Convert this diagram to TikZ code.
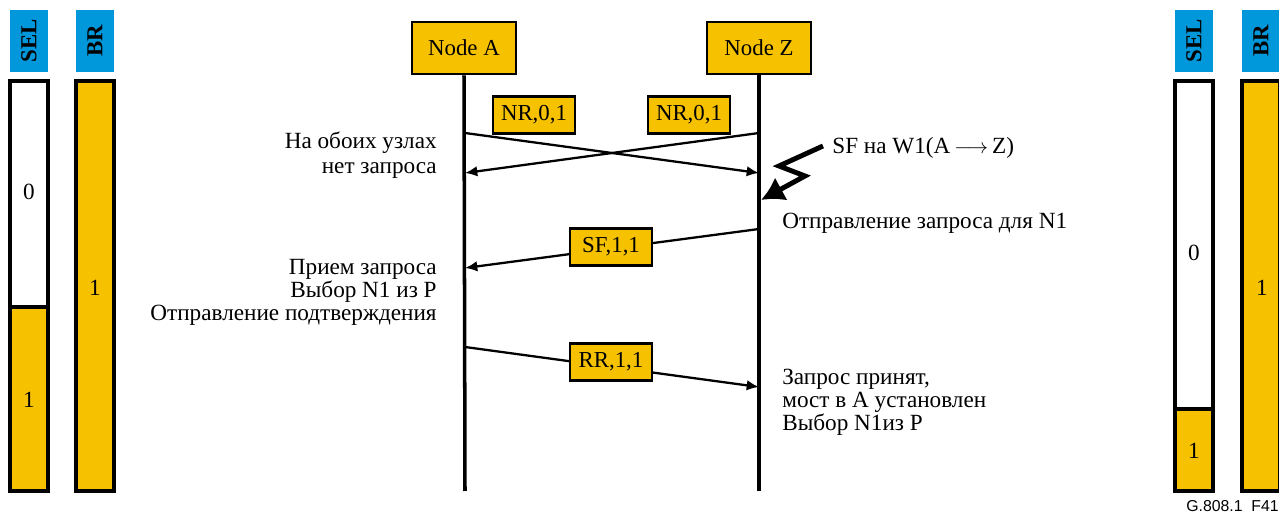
\documentclass[tikz,border=0pt]{standalone}
\usepackage{fontspec}
\setmainfont{Liberation Serif}
\newfontfamily\capfont{Liberation Sans}
\usetikzlibrary{arrows.meta}
\definecolor{ityellow}{HTML}{F6C200}
\definecolor{itblue}{HTML}{0097DB}
\tikzset{
  nodebox/.style={draw, fill=ityellow, line width=1.5pt, minimum width=2.08cm, minimum height=1.04cm, inner sep=0pt, font=\fontsize{13}{15}\selectfont},
  msgbox/.style={draw, fill=ityellow, line width=1.4pt, minimum width=1.64cm, minimum height=0.74cm, inner sep=0pt, font=\fontsize{13}{15}\selectfont},
  hdrbox/.style={fill=itblue, minimum width=0.76cm, minimum height=1.24cm, inner sep=0pt},
  hdrtext/.style={rotate=90, font=\bfseries\fontsize{13}{15}\selectfont},
  lifeline/.style={line width=2pt},
  msg/.style={line width=1.3pt, -{Latex[length=7pt,width=6pt]}},
  note/.style={font=\fontsize{13.2}{14.7}\selectfont, inner sep=0pt},
  barline/.style={line width=1.8pt}
}

\begin{document}
\begin{tikzpicture}[x=0.02cm, y=-0.02cm]
  \useasboundingbox (0,0) rectangle (1279,516);

  % state bars, left
  \node[hdrbox] (selL) at (29,41) {};
  \node[hdrtext] at (selL) {SEL};
  \node[hdrbox] (brL) at (95,41) {};
  \node[hdrtext] at (brL) {BR};
  \fill[white] (10,81) rectangle (48,307);
  \fill[ityellow] (10,307) rectangle (48,491);
  \draw[barline] (10,81) rectangle (48,491);
  \draw[barline] (10,307) -- (48,307);
  \node[note] at (29,192) {0};
  \node[note] at (29,400) {1};
  \fill[ityellow] (76,81) rectangle (114,491);
  \draw[barline] (76,81) rectangle (114,491);
  \node[note] at (95,288) {1};

  % state bars, right
  \node[hdrbox] (selR) at (1194,41) {};
  \node[hdrtext] at (selR) {SEL};
  \node[hdrbox] (brR) at (1261,41) {};
  \node[hdrtext] at (brR) {BR};
  \fill[white] (1175,81) rectangle (1213,409);
  \fill[ityellow] (1175,409) rectangle (1213,491);
  \draw[barline] (1175,81) rectangle (1213,491);
  \draw[barline] (1175,409) -- (1213,409);
  \node[note] at (1194,253) {0};
  \node[note] at (1194,451) {1};
  \fill[ityellow] (1242,81) rectangle (1280,491);
  \draw[barline] (1242,81) rectangle (1280,491);
  \node[note] at (1262,288) {1};

  % nodes and lifelines
  \node[nodebox] (nodeA) at (464,48) {Node A};
  \node[nodebox] (nodeZ) at (759,48) {Node Z};
  \coordinate (endA) at (465,491);
  \coordinate (endZ) at (759,491);
  \draw[lifeline] (nodeA.south) -- (endA);
  \draw[lifeline] (nodeZ.south) -- (endZ);

  % NR exchange
  \coordinate (a1) at (465,133);
  \coordinate (z1) at (759,133);
  \coordinate (a2) at (465,173);
  \coordinate (z2) at (759,173);
  \node[msgbox] (nrA) at (534,115) {NR,0,1};
  \node[msgbox] (nrZ) at (689,115) {NR,0,1};
  \draw[msg] (a1) -- (z2);
  \draw[msg] (z1) -- (a2);
  \node[note, anchor=base east, align=right] (txt1) at (437,174) {На обоих узлах\\нет запроса};

  % failure
  \coordinate (f0) at (823,146);
  \coordinate (f1) at (779,166);
  \coordinate (f2) at (805,176);
  \coordinate (f3) at (761,200);
  \draw[line width=2.8pt, line join=miter, -{Latex[length=13pt,width=15pt]}] (f0) -- (f1) -- (f2) -- (f3);
  \node[note, anchor=base west] (sf) at (832,154) {SF на W1(A\,$\longrightarrow$\,Z)};
  \node[note, anchor=base west] (txt2) at (782,229) {Отправление запроса для N1};

  % SF request
  \coordinate (z3) at (759,229);
  \coordinate (a3) at (465,268);
  \draw[msg] (z3) -- (a3);
  \node[msgbox] (sfZ) at (611,247) {SF,1,1};
  \node[note, anchor=north east, align=right, font=\fontsize{13.2}{13}\selectfont] (txt3) at (437,259) {Прием запроса\\Выбор N1 из P\\Отправление подтверждения};

  % RR reply
  \coordinate (a4) at (465,347);
  \coordinate (z4) at (759,387);
  \draw[msg] (a4) -- (z4);
  \node[msgbox] (rrA) at (611,362) {RR,1,1};
  \node[note, anchor=north west, align=left, font=\fontsize{13.2}{13}\selectfont] (txt4) at (782,369) {Запрос принят,\\мост в А установлен\\Выбор N1из P};

  \node[font=\capfont\fontsize{9}{10}\selectfont, anchor=base east, inner sep=0pt] (fig) at (1279,512) {G.808.1\ \ F41};
\end{tikzpicture}
\end{document}
